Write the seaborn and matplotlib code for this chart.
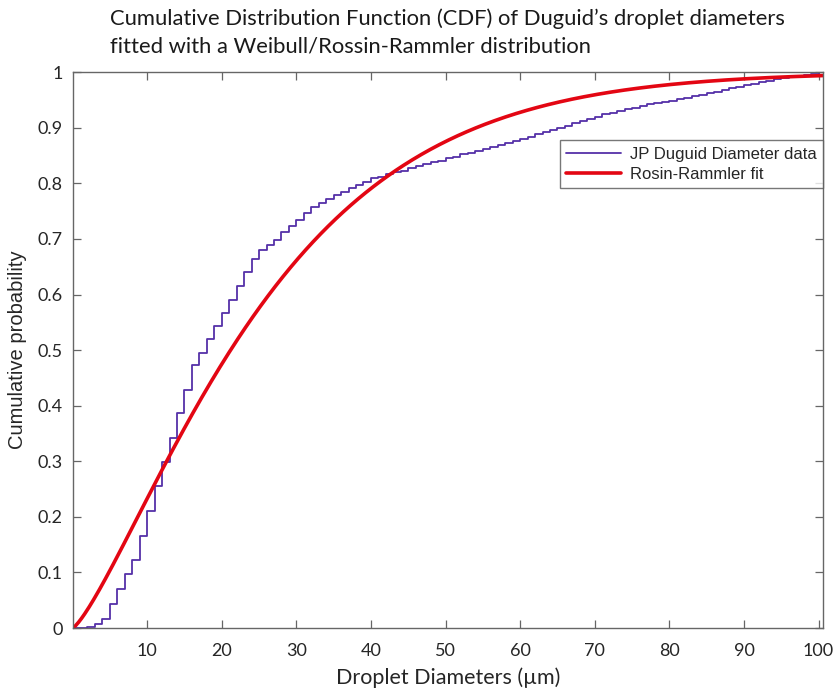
import numpy as np
import pandas as pd
import matplotlib
matplotlib.use("Agg")
import matplotlib.pyplot as plt
import seaborn as sns

# Empirical CDF of droplet diameters, one level per 1 µm bin (diameter in µm)
diameters = list(range(0, 101))
cdf_levels = [
    0.000, 0.000, 0.002, 0.008, 0.017, 0.043, 0.070, 0.097, 0.123, 0.166,
    0.210, 0.255, 0.298, 0.342, 0.386, 0.429, 0.473, 0.495, 0.520, 0.543,
    0.567, 0.591, 0.616, 0.640, 0.664, 0.680, 0.689, 0.699, 0.713, 0.723,
    0.734, 0.746, 0.757, 0.764, 0.771, 0.779, 0.785, 0.791, 0.797, 0.803,
    0.809, 0.812, 0.816, 0.820, 0.823, 0.827, 0.831, 0.834, 0.838, 0.841,
    0.845, 0.848, 0.852, 0.855, 0.859, 0.862, 0.866, 0.869, 0.873, 0.876,
    0.880, 0.884, 0.888, 0.892, 0.896, 0.900, 0.904, 0.908, 0.912, 0.916,
    0.920, 0.924, 0.927, 0.931, 0.934, 0.936, 0.939, 0.942, 0.944, 0.947,
    0.949, 0.952, 0.954, 0.957, 0.959, 0.962, 0.965, 0.968, 0.971, 0.974,
    0.977, 0.979, 0.982, 0.984, 0.987, 0.989, 0.991, 0.993, 0.995, 0.997,
    1.000,
]
d_max = 100.6

# Rosin-Rammler (Weibull) fit parameters
rr_scale = 28.2   # characteristic diameter (µm)
rr_shape = 1.28   # spread parameter

x_ticks = [10, 20, 30, 40, 50, 60, 70, 80, 90, 100]
y_ticks = [0, 0.1, 0.2, 0.3, 0.4, 0.5, 0.6, 0.7, 0.8, 0.9, 1]
y_tick_labels = ["0", "0.1", "0.2", "0.3", "0.4", "0.5", "0.6", "0.7", "0.8", "0.9", "1"]

title = ("Cumulative Distribution Function (CDF) of Duguid\u2019s droplet diameters\n"
         "fitted with a Weibull/Rossin-Rammler distribution")

sns.set_theme(style="white")
plt.rcParams["font.family"] = ["Lato", "DejaVu Sans"]

ecdf = pd.DataFrame({"d": diameters + [d_max], "F": cdf_levels + [cdf_levels[-1]]})
d_fit = np.linspace(0, d_max, 500)
fit = pd.DataFrame({"d": d_fit, "F": 1 - np.exp(-(d_fit / rr_scale) ** rr_shape)})

fig = plt.figure(figsize=(8.37, 6.94), dpi=100)
ax = fig.add_axes([0.0867, 0.095, 0.8966, 0.801])

purple = "#5530A8"
red = "#E30613"
sns.lineplot(data=ecdf, x="d", y="F", ax=ax, color=purple, lw=1.3,
             drawstyle="steps-post", label="JP Duguid Diameter data")
sns.lineplot(data=fit, x="d", y="F", ax=ax, color=red, lw=2.6,
             label="Rosin-Rammler fit")

ax.set_xlim(0, d_max)
ax.set_ylim(0, 1)
ax.set_xticks(x_ticks)
ax.set_yticks(y_ticks)
ax.set_yticklabels(y_tick_labels)

axis_grey = "#666666"
for s in ax.spines.values():
    s.set_visible(True)
    s.set_color(axis_grey)
    s.set_linewidth(1.0)
ax.tick_params(axis="both", which="both", direction="in", length=6, width=0.9,
               color=axis_grey, labelcolor="#262626", labelsize=13,
               top=True, right=True, bottom=True, left=True)
ax.tick_params(axis="x", pad=11)
ax.tick_params(axis="y", pad=7)

ax.set_xlabel("Droplet Diameters (\u00b5m)", fontsize=15.5, color="#262626", labelpad=6)
ax.set_ylabel("Cumulative probability", fontsize=14.5, color="#262626", labelpad=8,
              family=["Liberation Sans", "DejaVu Sans"])

leg = ax.legend(loc="upper right", bbox_to_anchor=(1.0, 0.878), frameon=True,
                borderaxespad=0.0, fancybox=False, shadow=False, borderpad=0.4,
                handlelength=3.3, labelspacing=0.3, handletextpad=0.5,
                prop={"family": ["Liberation Sans", "DejaVu Sans"], "size": 12})
leg.get_frame().set_edgecolor("#555555")
leg.get_frame().set_linewidth(1.0)

fig.text(0.535, 0.988, title, ha="center", va="top", multialignment="left",
         fontsize=15.8, color="#1a1a1a", linespacing=1.45)

fig.savefig("out.png", dpi=100, facecolor="white")
